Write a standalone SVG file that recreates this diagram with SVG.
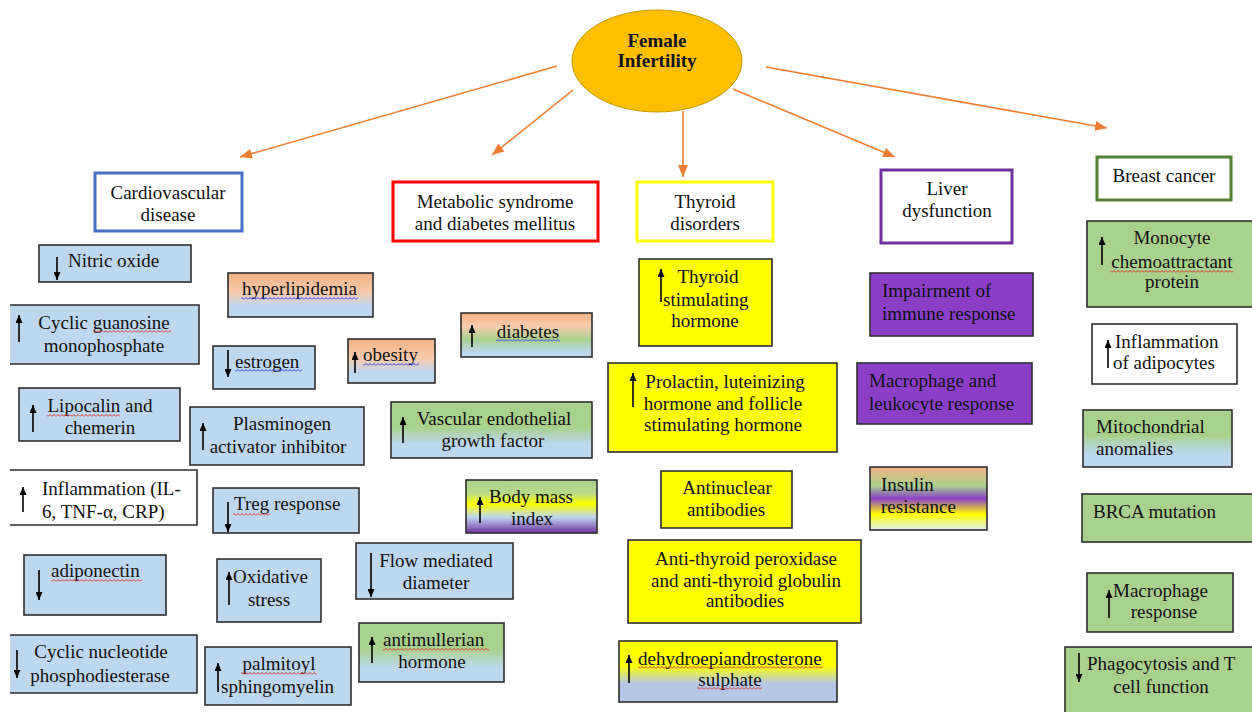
<svg xmlns="http://www.w3.org/2000/svg" width="1252" height="712" viewBox="0 0 1252 712">
<style>
.t{font-family:'Liberation Serif',Tinos,'Times New Roman',Times,'DejaVu Serif',serif;font-size:19px;fill:#111}
.m{text-anchor:middle}
.b{stroke:#2e2e2e;stroke-width:1.6}
.bl{fill:#BDD7EE}
.gr{fill:#A9D18E}
.ye{fill:#FFFF00}
.pu{fill:#8B3FC9}
.wh{fill:#fff}
.ua{stroke:#000;stroke-width:1.6;fill:none;marker-end:url(#ah)}
.con{stroke:#ED7D31;stroke-width:1.6;fill:none;marker-end:url(#oh)}
.cat{fill:#fff;stroke-width:3}
</style>
<defs>
<marker id="ah" viewBox="0 0 8 7" refX="8" refY="3.5" markerWidth="8" markerHeight="7" markerUnits="userSpaceOnUse" orient="auto"><path d="M0,0 L8,3.5 L0,7 z" fill="#000"/></marker>
<marker id="oh" viewBox="0 0 12 10" refX="12" refY="5" markerWidth="12" markerHeight="10" markerUnits="userSpaceOnUse" orient="auto"><path d="M0,0 L12,5 L0,10 z" fill="#ED7D31"/></marker>
<linearGradient id="gOB" x1="0" y1="0" x2="0" y2="1"><stop offset="0" stop-color="#F4B183"/><stop offset="0.45" stop-color="#F8CBAD"/><stop offset="0.75" stop-color="#BDD7EE"/><stop offset="1" stop-color="#BDD7EE"/></linearGradient>
<linearGradient id="gGB" x1="0" y1="0" x2="0" y2="1"><stop offset="0" stop-color="#A9D18E"/><stop offset="0.45" stop-color="#A9D18E"/><stop offset="0.75" stop-color="#BDD7EE"/><stop offset="1" stop-color="#BDD7EE"/></linearGradient>
<linearGradient id="gDI" x1="0" y1="0" x2="0" y2="1"><stop offset="0" stop-color="#F4B183"/><stop offset="0.3" stop-color="#F8CBAD"/><stop offset="0.6" stop-color="#A9D18E"/><stop offset="0.9" stop-color="#BDD7EE"/><stop offset="1" stop-color="#BDD7EE"/></linearGradient>
<linearGradient id="gBMI" x1="0" y1="0" x2="0" y2="1"><stop offset="0" stop-color="#A9D18E"/><stop offset="0.25" stop-color="#B8DA8A"/><stop offset="0.45" stop-color="#FFFF00"/><stop offset="0.7" stop-color="#BDD7EE"/><stop offset="1" stop-color="#7030A0"/></linearGradient>
<linearGradient id="gYB" x1="0" y1="0" x2="0" y2="1"><stop offset="0" stop-color="#FFFF00"/><stop offset="0.4" stop-color="#FFFF00"/><stop offset="0.7" stop-color="#B4C7E7"/><stop offset="1" stop-color="#B4C7E7"/></linearGradient>
<linearGradient id="gIN" x1="0" y1="0" x2="0" y2="1"><stop offset="0" stop-color="#F4B183"/><stop offset="0.3" stop-color="#A9D18E"/><stop offset="0.5" stop-color="#8B3FC9"/><stop offset="0.75" stop-color="#FFFF00"/><stop offset="1" stop-color="#DEEBF7"/></linearGradient>
<pattern id="wr" width="4" height="3" patternUnits="userSpaceOnUse"><path d="M0 2.5 L2 0.5 L4 2.5" stroke="#E02020" stroke-width="0.9" fill="none"/></pattern>
<pattern id="wb" width="4" height="3" patternUnits="userSpaceOnUse"><path d="M0 2.5 L2 0.5 L4 2.5" stroke="#2A2AF0" stroke-width="0.9" fill="none"/></pattern>
</defs>
<rect width="1252" height="712" fill="#fff"/>

<g id="connectors">
<line class="con" x1="557" y1="66" x2="240" y2="157"/>
<line class="con" x1="573" y1="90" x2="492" y2="155"/>
<line class="con" x1="683" y1="111" x2="683" y2="177"/>
<line class="con" x1="733" y1="89" x2="895" y2="157"/>
<line class="con" x1="766" y1="67" x2="1107" y2="128"/>
</g>

<g id="female-infertility">
<ellipse cx="657" cy="61" rx="85" ry="51" fill="#FDBF00" stroke="#C49A00" stroke-width="1"/>
<text class="t m" x="657" y="47" font-weight="bold">Female</text>
<text class="t m" x="657" y="67" font-weight="bold">Infertility</text>
</g>

<g id="cat-cardio"><rect class="cat" x="95" y="173" width="147" height="58" stroke="#4472C4"/>
<text class="t m" x="168" y="199">Cardiovascular</text><text class="t m" x="168" y="221">disease</text></g>
<g id="cat-metabolic"><rect class="cat" x="393" y="182" width="205" height="59" stroke="#FF0000"/>
<text class="t m" x="495" y="208">Metabolic syndrome</text><text class="t m" x="495" y="230">and diabetes mellitus</text></g>
<g id="cat-thyroid"><rect class="cat" x="637" y="182" width="136" height="59" stroke="#FFFF00"/>
<text class="t m" x="705" y="208">Thyroid</text><text class="t m" x="705" y="230">disorders</text></g>
<g id="cat-liver"><rect class="cat" x="881" y="170" width="131" height="73" stroke="#7030A0"/>
<text class="t m" x="947" y="195">Liver</text><text class="t m" x="947" y="217">dysfunction</text></g>
<g id="cat-breast"><rect class="cat" x="1097" y="157" width="134" height="43" stroke="#548235"/>
<text class="t m" x="1164" y="182">Breast cancer</text></g>

<!-- Cardiovascular items -->
<g id="n-nitric"><rect class="b bl" x="39" y="245" width="152" height="37"/><path class="ua" d="M57,257 V280"/><text class="t" x="68" y="267">Nitric oxide</text></g>
<g id="n-cgmp"><rect class="bl" x="10" y="305" width="189" height="59"/><path class="b" fill="none" d="M10,305 H199 V364 H10"/><path class="ua" d="M19,342 V315"/>
<text class="t m" x="104" y="329">Cyclic guanosine</text><text class="t m" x="104" y="352">monophosphate</text><rect x="93" y="330" width="78" height="3" fill="url(#wr)"/></g>
<g id="n-lipocalin"><rect class="b bl" x="19" y="388" width="161" height="53"/><path class="ua" d="M33,432 V405"/>
<text class="t m" x="100" y="412">Lipocalin and</text><text class="t m" x="100" y="434">chemerin</text><rect x="47" y="414" width="73" height="3" fill="url(#wr)"/></g>
<g id="n-inflam"><rect class="wh" x="10" y="470" width="187" height="55"/><path class="b" fill="none" d="M10,470 H197 V525 H10"/><path class="ua" d="M23,512 V487"/>
<text class="t" x="42" y="495">Inflammation (IL-</text><text class="t" x="42" y="518">6, TNF-α, CRP)</text></g>
<g id="n-adipo"><rect class="b bl" x="24" y="555" width="142" height="60"/><path class="ua" d="M39,570 V600"/>
<text class="t" x="51" y="577">adiponectin</text><rect x="51" y="579" width="91" height="3" fill="url(#wr)"/></g>
<g id="n-cnp"><rect class="bl" x="10" y="635" width="187" height="58"/><path class="b" fill="none" d="M10,635 H197 V693 H10"/><path class="ua" d="M17,650 V678"/>
<text class="t m" x="101" y="658">Cyclic nucleotide</text><text class="t m" x="100" y="682">phosphodiesterase</text></g>
<g id="n-hyper"><rect class="b" fill="url(#gOB)" x="228" y="273" width="145" height="44"/>
<text class="t m" x="299.5" y="295">hyperlipidemia</text><rect x="241" y="297" width="117" height="3" fill="url(#wb)"/></g>
<g id="n-estrogen"><rect class="b bl" x="213" y="346" width="102" height="43"/><path class="ua" d="M228,350 V377"/>
<text class="t" x="235" y="368">estrogen</text><rect x="235" y="369" width="67" height="3" fill="url(#wb)"/></g>
<g id="n-pai"><rect class="b bl" x="190" y="407" width="174" height="58"/><path class="ua" d="M203,450 V423"/>
<text class="t m" x="282" y="430">Plasminogen</text><text class="t m" x="278" y="453">activator inhibitor</text></g>
<g id="n-treg"><rect class="b bl" x="213" y="488" width="146" height="45"/><path class="ua" d="M228,502 V532"/>
<text class="t" x="234" y="510">Treg response</text><rect x="233" y="513" width="37" height="3" fill="url(#wr)"/></g>
<g id="n-oxid"><rect class="b bl" x="217" y="559" width="104" height="63"/><path class="ua" d="M229,605 V572"/>
<text class="t" x="233" y="583">Oxidative</text><text class="t m" x="269" y="606">stress</text></g>
<g id="n-palm"><rect class="b bl" x="205" y="647" width="146" height="58"/><path class="ua" d="M218,692 V663"/>
<text class="t m" x="279" y="670">palmitoyl</text><text class="t" x="221" y="693">sphingomyelin</text><rect x="241" y="672" width="76" height="3" fill="url(#wr)"/></g>

<!-- Metabolic items -->
<g id="n-obesity"><rect class="b" fill="url(#gOB)" x="348" y="339" width="87" height="44"/><path class="ua" d="M355,373 V352"/>
<text class="t" x="363" y="361">obesity</text><rect x="363" y="363" width="56" height="3" fill="url(#wb)"/></g>
<g id="n-diabetes"><rect class="b" fill="url(#gDI)" x="461" y="313" width="131" height="44"/><path class="ua" d="M472,347 V325"/>
<text class="t m" x="528" y="338">diabetes</text><rect x="496" y="339" width="64" height="3" fill="url(#wb)"/></g>
<g id="n-vegf"><rect class="b" fill="url(#gGB)" x="391" y="402" width="201" height="56"/><path class="ua" d="M403,443 V417"/>
<text class="t m" x="494" y="425">Vascular endothelial</text><text class="t m" x="493" y="447">growth factor</text></g>
<g id="n-bmi"><rect class="b" fill="url(#gBMI)" x="466" y="480" width="131" height="53"/><path class="ua" d="M480,523 V497"/>
<text class="t" x="489" y="503">Body mass</text><text class="t m" x="532" y="525">index</text></g>
<g id="n-flow"><rect class="b bl" x="356" y="543" width="157" height="56"/><path class="ua" d="M371,553 V597"/>
<text class="t m" x="436" y="567">Flow mediated</text><text class="t m" x="436" y="589">diameter</text></g>
<g id="n-amh"><rect class="b" fill="url(#gGB)" x="359" y="623" width="145" height="59"/><path class="ua" d="M372,663 V637"/>
<text class="t" x="383" y="646">antimullerian</text><text class="t m" x="432" y="668">hormone</text><rect x="383" y="648" width="106" height="3" fill="url(#wr)"/></g>

<!-- Thyroid items -->
<g id="n-tsh"><rect class="b ye" x="639" y="259" width="133" height="87"/><path class="ua" d="M661,302 V269"/>
<text class="t m" x="708" y="283">Thyroid</text><text class="t" x="663" y="306">stimulating</text><text class="t m" x="705" y="327">hormone</text></g>
<g id="n-prolactin"><rect class="b ye" x="608" y="363" width="229" height="89"/><path class="ua" d="M633,407 V373"/>
<text class="t m" x="725" y="388">Prolactin, luteinizing</text><text class="t m" x="723" y="410">hormone and follicle</text><text class="t m" x="723" y="431">stimulating hormone</text></g>
<g id="n-ana"><rect class="b ye" x="661" y="471" width="131" height="57"/>
<text class="t m" x="727" y="494">Antinuclear</text><text class="t m" x="726" y="516">antibodies</text></g>
<g id="n-atpo"><rect class="b ye" x="628" y="540" width="233" height="83"/>
<text class="t m" x="746" y="565">Anti-thyroid peroxidase</text><text class="t m" x="746" y="587">and anti-thyroid globulin</text><text class="t m" x="745" y="607">antibodies</text></g>
<g id="n-dhea"><rect class="b" fill="url(#gYB)" x="619" y="641" width="218" height="61"/><path class="ua" d="M629,683 V655"/>
<text class="t" x="638" y="665">dehydroepiandrosterone</text><text class="t m" x="730" y="686">sulphate</text>
<rect x="638" y="666" width="185" height="3" fill="url(#wr)"/><rect x="697" y="687" width="65" height="3" fill="url(#wr)"/></g>

<!-- Liver items -->
<g id="n-immune"><rect class="b pu" x="870" y="273" width="163" height="63"/>
<text class="t" x="882" y="297">Impairment of</text><text class="t" x="882" y="320">immune response</text></g>
<g id="n-leuko"><rect class="b pu" x="857" y="363" width="175" height="61"/>
<text class="t" x="869" y="387">Macrophage and</text><text class="t" x="869" y="410">leukocyte response</text></g>
<g id="n-insulin"><rect class="b" fill="url(#gIN)" x="870" y="467" width="117" height="63"/>
<text class="t" x="881" y="491">Insulin</text><text class="t" x="881" y="513">resistance</text></g>

<!-- Breast items -->
<g id="n-mcp"><rect class="b gr" x="1087" y="221" width="172" height="86"/><path class="ua" d="M1102,265 V237"/>
<text class="t m" x="1172" y="244">Monocyte</text><text class="t m" x="1172" y="268">chemoattractant</text><text class="t m" x="1172" y="288">protein</text>
<rect x="1110" y="270" width="123" height="3" fill="url(#wr)"/></g>
<g id="n-adipocytes"><rect class="b wh" x="1092" y="324" width="145" height="60"/><path class="ua" d="M1108,368 V340"/>
<text class="t" x="1115" y="348">Inflammation</text><text class="t" x="1113" y="369">of adipocytes</text></g>
<g id="n-mito"><rect class="b" fill="url(#gGB)" x="1083" y="410" width="149" height="57"/>
<text class="t" x="1096" y="433">Mitochondrial</text><text class="t" x="1096" y="455">anomalies</text></g>
<g id="n-brca"><rect class="b gr" x="1082" y="494" width="177" height="48"/>
<text class="t" x="1093" y="518">BRCA mutation</text></g>
<g id="n-macro"><rect class="b gr" x="1087" y="573" width="146" height="59"/><path class="ua" d="M1109,618 V590"/>
<text class="t" x="1113" y="597">Macrophage</text><text class="t m" x="1164" y="618">response</text></g>
<g id="n-phago"><rect class="b gr" x="1065" y="647" width="195" height="72"/><path class="ua" d="M1079,653 V682"/>
<text class="t" x="1087" y="670">Phagocytosis and T</text><text class="t m" x="1161" y="693">cell function</text></g>
</svg>
